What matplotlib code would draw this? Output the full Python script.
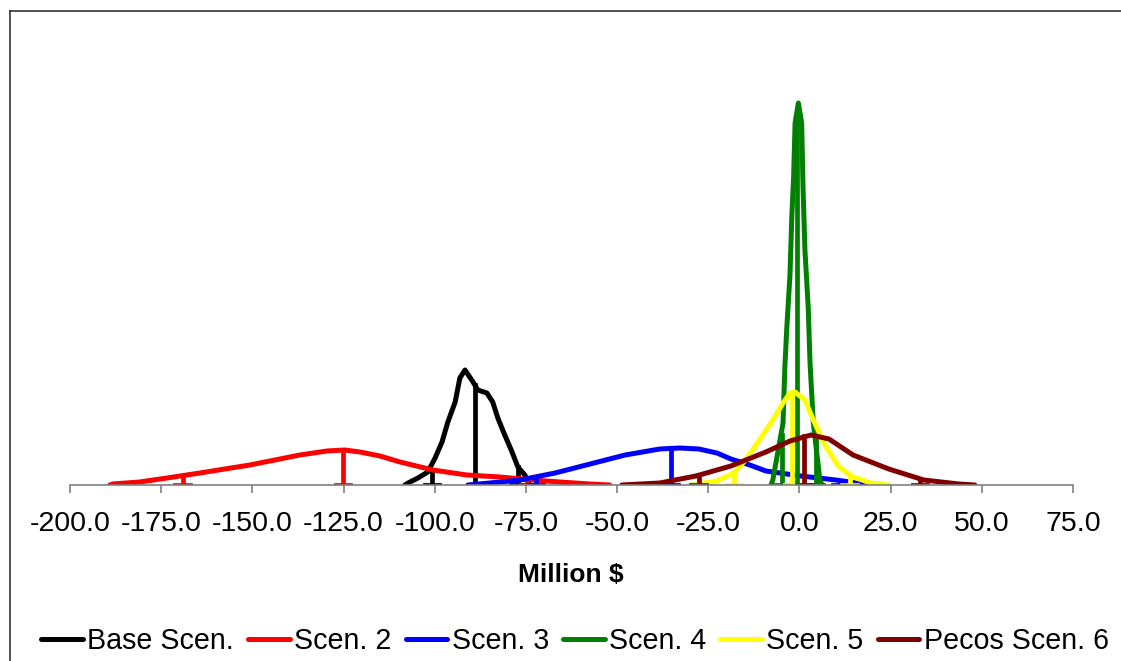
import matplotlib.pyplot as plt
from matplotlib.lines import Line2D

plt.rcParams['font.family'] = ['Liberation Sans', 'DejaVu Sans']

# distributions (x in million $, y in relative frequency units)
base_x = [-108.2, -107.3, -104.6, -101.9, -99.9, -98.0, -96.4, -94.4, -93.1, -91.7, -89.5,
          -88.2, -85.7, -84.1, -82.7, -80.8, -78.8, -77.2, -75.3, -74.4, -73.9]
base_y = [0, 2, 7, 13, 27, 43, 63, 83, 107, 115, 103, 95, 92, 83, 67, 50, 33, 18, 10, 3, 0]

scen2_x = [-189.1, -188.3, -180.9, -173.4, -164.4, -150.7, -137.0, -129.6, -124.7, -120.5, -115.0,
           -109.5, -100.5, -91.2, -82.1, -73.1, -65.7, -57.4, -52.0]
scen2_y = [0, 1, 3, 7, 12, 20, 30, 34, 35, 33, 29, 23, 15, 10, 8, 5, 3, 1, 0]

scen3_x = [-90.9, -84.9, -76.6, -67.0, -57.4, -47.8, -38.3, -32.8, -27.6, -22.6, -18.8, -13.6,
           -9.2, 0.4, 10.0, 19.6]
scen3_y = [0, 2, 5, 12, 21, 30, 36, 37, 36, 32, 26, 20, 14, 9, 5, 0]

scen4_x = [-7.8, -7.3, -4.5, -4.0, -3.5, -2.6, -2.1, -1.6, -1.2, -0.3, 0.6, 1.0, 1.5, 2.4, 2.9,
           3.8, 5.6, 6.2]
scen4_y = [0, 5, 62, 118, 155, 210, 268, 308, 362, 382, 362, 295, 235, 178, 122, 62, 5, 0]

scen5_x = [-29.5, -22.6, -18.0, -15.0, -10.8, -7.3, -4.5, -2.6, -1.2, 1.5, 3.8, 7.0, 10.8, 14.7,
           19.6, 24.5]
scen5_y = [0, 4, 12, 24, 46, 65, 82, 92, 93, 85, 65, 40, 18, 8, 2, 0]

scen6_x = [-48.7, -38.3, -28.4, -18.8, -9.2, -2.6, 3.2, 8.1, 14.7, 24.5, 34.1, 43.7, 48.1]
scen6_y = [0, 2, 9, 19, 33, 44, 50, 46, 30, 16, 5, 1, 0]

# 5% / mean / 95% markers
base_mark_x = [-100.8, -89.0, -77.2]
base_mark_y = [15, 100, 18]
scen2_mark_x = [-169.1, -125.2, -74.7]
scen2_mark_y = [8, 35, 5]
scen3_mark_x = [-72.2, -35.2, 11.1]
scen3_mark_y = [6, 37, 4]
scen4_mark_x = [-4.7, -0.7, 4.5]
scen4_mark_y = [50, 375, 45]
scen5_mark_x = [-18.0, -2.1, 13.8]
scen5_mark_y = [12, 92, 10]
scen6_mark_x = [-27.6, 1.2, 33.0]
scen6_mark_y = [9, 49, 6]

names = ['Base Scen.', 'Scen. 2', 'Scen. 3', 'Scen. 4', 'Scen. 5', 'Pecos Scen. 6']
colors = ['black', 'red', 'blue', 'green', 'yellow', 'maroon']
curves = [(base_x, base_y), (scen2_x, scen2_y), (scen3_x, scen3_y),
          (scen4_x, scen4_y), (scen5_x, scen5_y), (scen6_x, scen6_y)]
marks = [(base_mark_x, base_mark_y), (scen2_mark_x, scen2_mark_y), (scen3_mark_x, scen3_mark_y),
         (scen4_mark_x, scen4_mark_y), (scen5_mark_x, scen5_mark_y), (scen6_mark_x, scen6_mark_y)]

xticks = [-200, -175, -150, -125, -100, -75, -50, -25, 0, 25, 50, 75]

fig = plt.figure(figsize=(11.21, 6.61), dpi=100)
ax = fig.add_axes([70 / 1121, 1 - 485 / 661, 1003 / 1121, 445 / 661])

foot = 2.0
for (cx, cy), (mx, my), name, c in zip(curves, marks, names, colors):
    ax.plot(cx, cy, color=c, lw=3.6, label=name, solid_joinstyle='round', solid_capstyle='round')
    for x, h in zip(mx, my):
        ax.plot([x, x], [0, h], color=c, lw=3.4)
        ax.plot([x - foot, x + foot], [0, 0], color=c, lw=3.4)

ax.set_xlim(-200, 75)
ax.set_ylim(0, 445)
ax.set_xticks(xticks)
ax.set_xticklabels([f'{t:.1f}' for t in xticks], fontsize=20.5)
ax.set_yticks([])
for s in ['left', 'right', 'top']:
    ax.spines[s].set_visible(False)
ax.spines['bottom'].set_color('#808080')
ax.spines['bottom'].set_linewidth(1.2)
ax.tick_params(axis='x', direction='out', length=6, width=1.2, color='#808080', pad=13)
ax.patch.set_alpha(0)

fig.text(571 / 1121, 1 - 575 / 661, 'Million \\$', fontsize=19, fontweight='bold',
         ha='center', va='center')

fig.legend(*ax.get_legend_handles_labels(), loc='center', bbox_to_anchor=(575 / 1121, 1 - 641 / 661),
           ncol=6, frameon=False, fontsize=20.6, handlelength=1.45, handletextpad=0.15,
           columnspacing=0.5, borderaxespad=0)

# outer chart frame
fig.add_artist(Line2D([10 / 1121, 10 / 1121], [0, 1 - 11 / 661], color='#333333', lw=1.2))
fig.add_artist(Line2D([10 / 1121, 1], [1 - 11 / 661, 1 - 11 / 661], color='#333333', lw=1.2))

fig.savefig('out.png', dpi=100)
